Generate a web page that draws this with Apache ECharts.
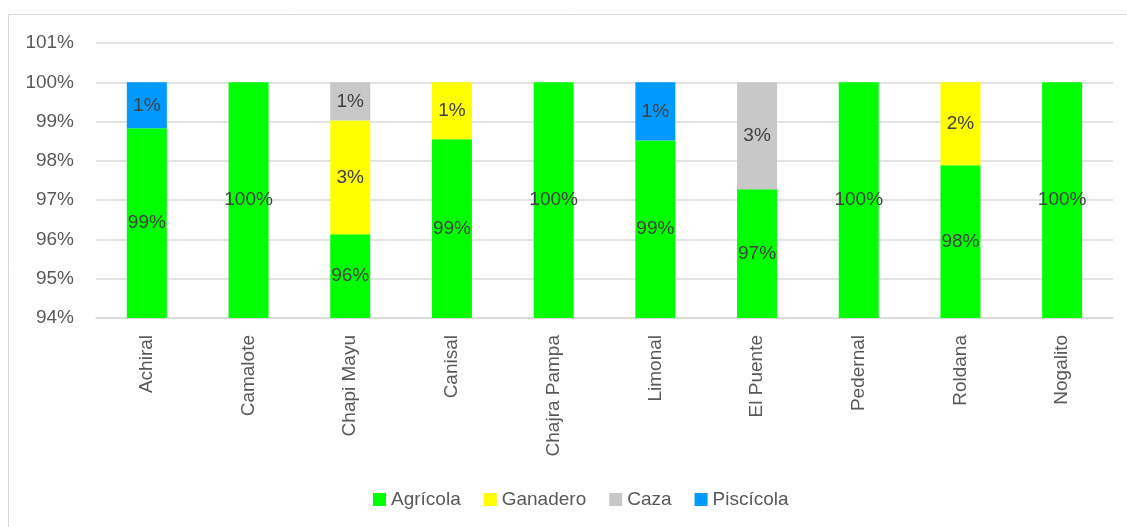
<!DOCTYPE html>
<html>
<head>
<meta charset="utf-8">
<script src="https://cdn.jsdelivr.net/npm/echarts@6/dist/echarts.min.js"></script>
<style>
  html, body { margin: 0; padding: 0; background: #fff; }
  #chart { width: 1127px; height: 527px; }
</style>
</head>
<body>
<div id="chart"></div>
<script>
// datos (porcentaje por actividad)
const categories = ['Achiral', 'Camalote', 'Chapi Mayu', 'Canisal', 'Chajra Pampa', 'Limonal', 'El Puente', 'Pedernal', 'Roldana', 'Nogalito']
const agricola = [98.83, 100, 96.13, 98.55, 100, 98.52, 97.28, 100, 97.89, 100]
const ganadero = [0, 0, 2.9, 1.45, 0, 0, 0, 0, 2.11, 0]
const caza = [0, 0, 0.97, 0, 0, 0, 2.72, 0, 0, 0]
const piscicola = [1.17, 0, 0, 0, 0, 1.48, 0, 0, 0, 0]
const yTicks = [94, 95, 96, 97, 98, 99, 100, 101]

const axisMin = yTicks[0]
const fontFamily = '"Liberation Sans", Arial, sans-serif'
const fontSize = 19

const chart = echarts.init(document.getElementById('chart'))

const labelStyle = {
  show: true,
  position: 'inside',
  color: '#404040',
  fontSize: fontSize,
  fontFamily: fontFamily
}

const pct = v => (v > 0 ? Math.round(v) + '%' : '')

const option = {
  animation: false,
  textStyle: { fontFamily: fontFamily },
  grid: {
    left: 96,
    right: 14,
    top: 43,
    bottom: 209
  },
  graphic: [{
    type: 'rect',
    shape: { x: 8.5, y: 14.5, width: 1130, height: 530 },
    style: { fill: 'none', stroke: '#d9d9d9', lineWidth: 1 },
    silent: true
  }],
  legend: {
    top: 485,
    left: 368,
    itemWidth: 13,
    itemHeight: 13,
    itemGap: 23,
    icon: 'rect',
    data: ['Agrícola', 'Ganadero', 'Caza', 'Piscícola'],
    textStyle: { color: '#595959', fontSize: fontSize, fontFamily: fontFamily }
  },
  xAxis: {
    type: 'category',
    data: categories,
    axisTick: { show: false },
    axisLine: { lineStyle: { color: '#d9d9d9', width: 1.5 } },
    axisLabel: {
      rotate: 90,
      margin: 17,
      color: '#595959',
      fontSize: fontSize,
      fontFamily: fontFamily
    }
  },
  yAxis: {
    type: 'value',
    min: axisMin,
    max: yTicks[yTicks.length - 1],
    interval: 1,
    axisLine: { show: false },
    axisTick: { show: false },
    splitLine: { lineStyle: { color: '#d9d9d9', width: 1.5 } },
    axisLabel: {
      margin: 22,
      color: '#595959',
      fontSize: fontSize,
      fontFamily: fontFamily,
      formatter: v => v + '%'
    }
  },
  series: [
    {
      // base invisible hasta el mínimo del eje
      name: 'base',
      type: 'bar',
      stack: 'total',
      silent: true,
      barWidth: 40,
      itemStyle: { color: 'transparent' },
      data: categories.map(() => axisMin)
    },
    {
      name: 'Agrícola',
      type: 'bar',
      stack: 'total',
      barWidth: 40,
      itemStyle: { color: '#00ff00' },
      label: { ...labelStyle, formatter: p => pct(agricola[p.dataIndex]) },
      data: agricola.map(v => +(v - axisMin).toFixed(2))
    },
    {
      name: 'Ganadero',
      type: 'bar',
      stack: 'total',
      barWidth: 40,
      itemStyle: { color: '#ffff00' },
      label: { ...labelStyle, formatter: p => pct(p.value) },
      data: ganadero
    },
    {
      name: 'Caza',
      type: 'bar',
      stack: 'total',
      barWidth: 40,
      itemStyle: { color: '#c8c8c8' },
      label: { ...labelStyle, formatter: p => pct(p.value) },
      data: caza
    },
    {
      name: 'Piscícola',
      type: 'bar',
      stack: 'total',
      barWidth: 40,
      itemStyle: { color: '#0099ff' },
      label: { ...labelStyle, formatter: p => pct(p.value) },
      data: piscicola
    }
  ]
}

chart.setOption(option)
window.addEventListener('resize', () => chart.resize())
</script>
</body>
</html>
